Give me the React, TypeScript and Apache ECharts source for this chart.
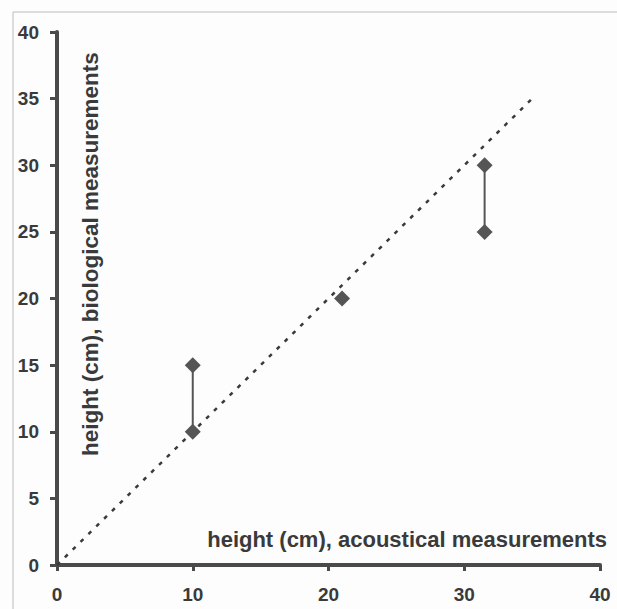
import React, { useEffect, useRef } from "react";
import * as echarts from "echarts";

const pairLow: [number, number][] = [[10, 10], [10, 15]];
const pairHigh: [number, number][] = [[31.5, 25], [31.5, 30]];
const singlePoint: [number, number][] = [[21, 20]];
const identityLine: [number, number][] = [[0, 0], [35, 35]];
const xTitle = "height (cm), acoustical measurements";
const yTitle = "height (cm), biological measurements";

const AXIS = "#4a4a4a";
const MARK = "#555555";
const FONT = "Liberation Sans";

export default function App() {
  const ref = useRef<HTMLDivElement>(null);
  useEffect(() => {
    if (!ref.current) return;
    const chart = echarts.init(ref.current, null, { renderer: "svg" });
    const markerSeries = (data: [number, number][]) => ({
      type: "line",
      data,
      symbol: "diamond",
      symbolSize: 16,
      itemStyle: { color: MARK, opacity: 1 },
      lineStyle: { color: MARK, width: 2 },
      z: 3,
    });
    chart.setOption({
      animation: false,
      backgroundColor: "#fdfdfd",
      grid: { left: 57, right: 17, top: 32, bottom: 44 },
      xAxis: {
        type: "value",
        min: 0,
        max: 40,
        interval: 10,
        splitLine: { show: false },
        axisLine: { show: true, onZero: false, lineStyle: { color: AXIS, width: 4 } },
        axisTick: { show: true, length: 6, lineStyle: { color: AXIS, width: 3 } },
        axisLabel: {
          color: "#3a3a3a",
          fontFamily: FONT,
          fontWeight: "bold",
          fontSize: 19,
          margin: 20,
        },
      },
      yAxis: {
        type: "value",
        min: 0,
        max: 40,
        interval: 5,
        splitLine: { show: false },
        axisLine: { show: true, onZero: false, lineStyle: { color: AXIS, width: 4 } },
        axisTick: { show: true, length: 7, lineStyle: { color: AXIS, width: 3 } },
        axisLabel: {
          color: "#3a3a3a",
          fontFamily: FONT,
          fontWeight: "bold",
          fontSize: 19,
          margin: 18,
        },
      },
      graphic: [
        {
          type: "rect",
          shape: { x: 13, y: 12, width: 620, height: 620 },
          style: { fill: "none", stroke: "#bbbbbb", lineWidth: 1 },
          silent: true,
          z: -1,
        },
        {
          type: "text",
          x: 607,
          y: 539,
          style: {
            text: xTitle,
            fill: "#3a3a3a",
            fontFamily: FONT,
            fontWeight: "bold",
            fontSize: 22,
            textAlign: "right",
            textVerticalAlign: "middle",
          },
        },
        {
          type: "text",
          x: 90,
          y: 456,
          rotation: Math.PI / 2,
          style: {
            text: yTitle,
            fill: "#3a3a3a",
            fontFamily: FONT,
            fontWeight: "bold",
            fontSize: 22.5,
            textAlign: "left",
            textVerticalAlign: "middle",
          },
        },
      ],
      series: [
        {
          type: "line",
          data: identityLine,
          symbol: "none",
          lineStyle: { color: "#3a3a3a", width: 2.5, type: [4, 7] },
          z: 2,
        },
        markerSeries(pairLow),
        markerSeries(pairHigh),
        {
          type: "scatter",
          data: singlePoint,
          symbol: "diamond",
          symbolSize: 16,
          itemStyle: { color: MARK, opacity: 1 },
          z: 3,
        },
      ],
    });
    return () => chart.dispose();
  }, []);
  return (
    <div
      ref={ref}
      style={{ position: "absolute", left: 0, top: 0, width: 617, height: 609 }}
    />
  );
}
